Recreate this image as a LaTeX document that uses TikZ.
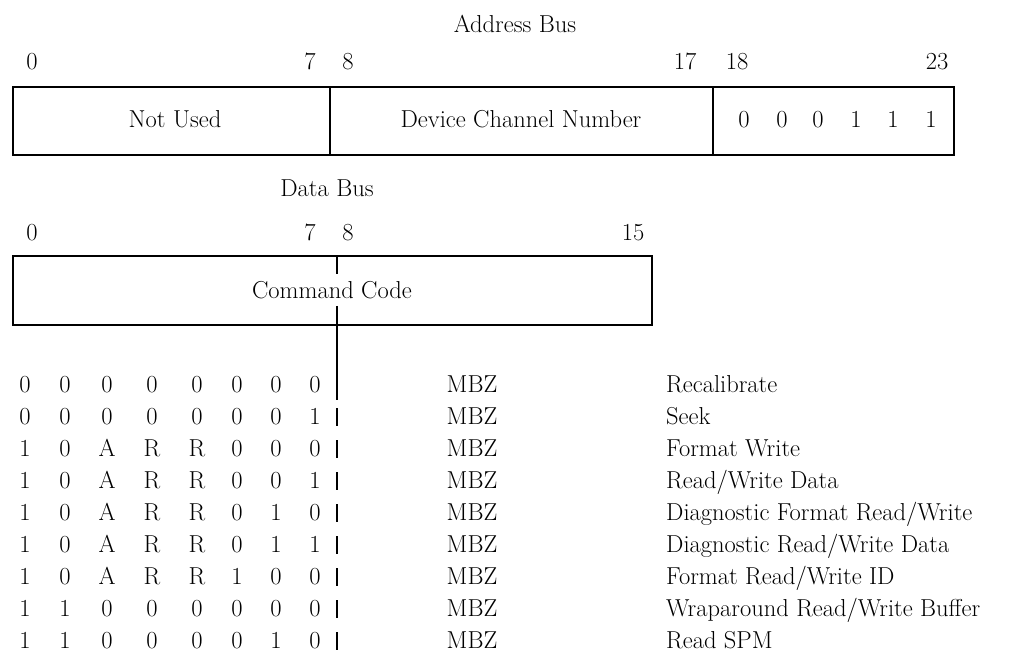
\documentclass[tikz,border=0pt]{standalone}
\usepackage{tikz}
\usetikzlibrary{positioning}
\usetikzlibrary{calc}
\tikzset{
txt/.style = {font=\fontsize{#1}{#1}\selectfont, inner sep=0pt, anchor=base},
txt/.default = 24.5, % text size in pt
field/.style = {draw, line width=1.5pt}
}
\def\colx{{25,65,107,152,197,237,276,315}}
\newcommand{\bitnum}[3]{\node[txt] (#1) at (#2) {#3};}
\newcommand{\bitrow}[4]{%
  \foreach \b [count=\i] in {#3} {
    \pgfmathsetmacro{\xx}{\colx[\i-1]}
    \node[txt] (#1b\i) at (\xx,#2) {\b};
  }
  \draw[field] (337,#2-1) -- (337,#2+17);
  \node[txt] (#1z) at (472,#2) {MBZ};
  \node[txt, anchor=base west] (#1d) at (666,#2) {#4};
}

\begin{document}
\begin{tikzpicture}[x=1pt, y=1pt]
    \useasboundingbox (0,0) rectangle (1009,653);

    % address bus word
    \node[txt] (addrbus) at (515,620) {Address Bus};
    \bitnum{a0}{32,583}{0};
    \bitnum{a7}{310,583}{7};
    \bitnum{a8}{348,583}{8};
    \bitnum{a17}{685,583}{17};
    \bitnum{a18}{737,583}{18};
    \bitnum{a23}{937,583}{23};

    \draw[field] (13,498) rectangle (954,566);
    \draw[field] (330,498) -- (330,566);
    \draw[field] (713,498) -- (713,566);

    \node[txt] (notused) at (175,525) {Not Used};
    \node[txt] (devchan) at (521,525) {Device Channel Number};
    \foreach \b/\x [count=\i] in {0/744,0/782,0/818,1/856,1/893,1/931}
        \node[txt] (ab\i) at (\x,525) {\b};

    % data bus word
    \node[txt] (databus) at (327,456) {Data Bus};
    \bitnum{d0}{32,412}{0};
    \bitnum{d7}{310,412}{7};
    \bitnum{d8}{348,412}{8};
    \bitnum{d15}{633,412}{15};

    \draw[field] (13,328) rectangle (652,397);
    \node[txt] (cmdcode) at (332,354) {Command Code};
    \draw[field] (337,397) -- (337,379);
    \draw[field] (337,347) -- (337,253);

    % command codes
    \bitrow{r1}{260}{0,0,0,0,0,0,0,0}{Recalibrate};
    \bitrow{r2}{228}{0,0,0,0,0,0,0,1}{Seek};
    \bitrow{r3}{196}{1,0,A,R,R,0,0,0}{Format Write};
    \bitrow{r4}{164}{1,0,A,R,R,0,0,1}{Read/Write Data};
    \bitrow{r5}{132}{1,0,A,R,R,0,1,0}{Diagnostic Format Read/Write};
    \bitrow{r6}{100}{1,0,A,R,R,0,1,1}{Diagnostic Read/Write Data};
    \bitrow{r7}{68}{1,0,A,R,R,1,0,0}{Format Read/Write ID};
    \bitrow{r8}{36}{1,1,0,0,0,0,0,0}{Wraparound Read/Write Buffer};
    \bitrow{r9}{4}{1,1,0,0,0,0,1,0}{Read SPM};
\end{tikzpicture}
\end{document}
